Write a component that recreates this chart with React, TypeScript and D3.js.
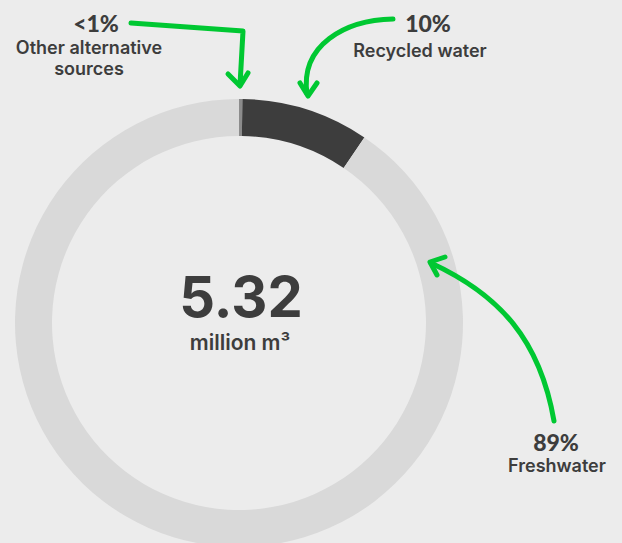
import React from "react";
import * as d3 from "d3";

const categories = ["Other alternative sources", "Recycled water", "Freshwater"];
const values = [0.013, 0.49, 4.817];
const percentLabels = ["<1%", "10%", "89%"];
const totalLabel = "5.32";
const unitLabel = "million m³";

const colors = ["#8c8c8c", "#3d3d3d", "#d9d9d9"];
const W = 622;
const H = 543;
const cx = 239;
const cy = 323;
const outerR = 224;
const innerR = 187;
const textColor = "#3d3d3d";
const green = "#00c832";

export default function App() {
  const data = categories.map((c, i) => ({ c, v: values[i], color: colors[i] }));
  const pie = d3.pie<any>().value((d: any) => d.v).sort(null);
  const arcs = pie(data);
  const arc = d3.arc<any>().innerRadius(innerR).outerRadius(outerR);

  const hand = "Lato, 'Noto Sans', sans-serif";
  const sans = "Inter, 'Noto Sans', sans-serif";

  const arrowStyle = {
    fill: "none",
    stroke: green,
    strokeWidth: 5,
    strokeLinecap: "round" as const,
    strokeLinejoin: "round" as const,
  };

  return (
    <svg
      width={W}
      height={H}
      style={{ position: "fixed", left: 0, top: 0, background: "#ececec" }}
    >
      <rect width={W} height={H} fill="#ececec" />
      <g transform={`translate(${cx},${cy})`}>
        {arcs.map((a, i) => (
          <path key={i} d={arc(a) as string} fill={a.data.color} />
        ))}
      </g>

      {/* center text */}
      <text x={241} y={317} textAnchor="middle" fontFamily={sans} fontWeight={700} fontSize={56} fill={textColor}>
        {totalLabel}
      </text>
      <text x={240} y={350} textAnchor="middle" fontFamily={sans} fontWeight={600} fontSize={21} fill={textColor}>
        {unitLabel}
      </text>

      {/* Other alternative sources */}
      <text x={96} y={32} textAnchor="middle" fontFamily={hand} fontWeight={900} fontSize={23} fill={textColor}>
        {percentLabels[0]}
      </text>
      <text x={89} y={54} textAnchor="middle" fontFamily={sans} fontWeight={600} fontSize={18} fill={textColor}>
        Other alternative
      </text>
      <text x={89} y={75} textAnchor="middle" fontFamily={sans} fontWeight={600} fontSize={18} fill={textColor}>
        sources
      </text>
      <path d="M131,23 L243,31 L240,85" style={arrowStyle} />
      <path d="M228,74 L240,86 L248,73" style={arrowStyle} />

      {/* Recycled water */}
      <text x={428} y={32} textAnchor="middle" fontFamily={hand} fontWeight={900} fontSize={23} fill={textColor}>
        {percentLabels[1]}
      </text>
      <text x={420} y={57} textAnchor="middle" fontFamily={sans} fontWeight={600} fontSize={18} fill={textColor}>
        {categories[1]}
      </text>
      <path d="M393,19 C345,20 300,45 307,94" style={arrowStyle} />
      <path d="M300,83 L308,96 L317,83" style={arrowStyle} />

      {/* Freshwater */}
      <text x={556} y={451} textAnchor="middle" fontFamily={hand} fontWeight={900} fontSize={23} fill={textColor}>
        {percentLabels[2]}
      </text>
      <text x={557} y={472} textAnchor="middle" fontFamily={sans} fontWeight={600} fontSize={18} fill={textColor}>
        {categories[2]}
      </text>
      <path d="M554,421 C540,340 500,295 431,263" style={arrowStyle} />
      <path d="M437,275 L430,262 L445,257" style={arrowStyle} />
    </svg>
  );
}
